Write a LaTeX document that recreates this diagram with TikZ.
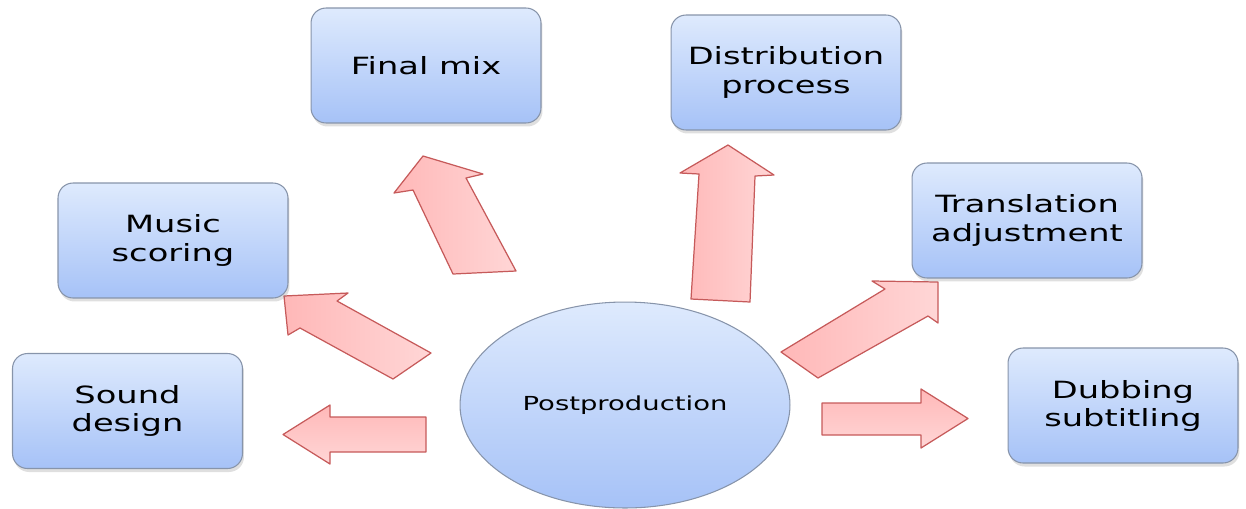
\documentclass[tikz,border=0pt]{standalone}
\usepackage{fontspec}
\setmainfont{DejaVu Sans}[FakeStretch=1.42]
\usetikzlibrary{shapes.geometric,shadows}
\definecolor{boxtop}{HTML}{DEEAFD}
\definecolor{boxbot}{HTML}{A6C2F7}
\definecolor{boxline}{HTML}{8794AA}
\definecolor{arrdark}{HTML}{FFB8B8}
\definecolor{arrlight}{HTML}{FFD6D6}
\definecolor{arrline}{HTML}{C65A5A}
\tikzset{
  stepbox/.style={rectangle, rounded corners=0.3cm, minimum width=4.6cm,
    minimum height=2.3cm, draw=boxline, line width=0.6pt,
    top color=boxtop, bottom color=boxbot, align=center,
    font=\fontsize{13.5}{16}\selectfont,
    drop shadow={shadow xshift=0.03cm, shadow yshift=-0.07cm, opacity=0.25}},
  hub/.style={ellipse, minimum width=6.6cm, minimum height=4.12cm, inner sep=0pt,
    draw=boxline, line width=0.6pt, top color=boxtop, bottom color=boxbot,
    font=\fontsize{11}{13}\selectfont},
  blockarrow/.style={draw=arrline, line width=0.7pt, line join=round,
    left color=arrdark, right color=arrlight},
  harrow/.style={draw=arrline, line width=0.7pt, line join=round,
    top color=arrdark, bottom color=arrlight}
}
\begin{document}
\begin{tikzpicture}[x=0.02cm, y=-0.02cm]
\useasboundingbox (0,0) rectangle (1246,508);
% block arrows
\path[harrow] (426,417) -- (330,417) -- (330,405) -- (283,434.5) -- (330,464) -- (330,452) -- (426,452) -- cycle;
\path[harrow] (822,403) -- (921,403) -- (921,389) -- (968,418.5) -- (921,448) -- (921,435) -- (822,435) -- cycle;
\path[blockarrow] (431,353) -- (337,301) -- (348,293) -- (284,296) -- (288,335) -- (300,328) -- (393,379) -- cycle;
\path[blockarrow] (516,271) -- (466,178) -- (483,174) -- (423,156) -- (394,193) -- (413,190) -- (453,274) -- cycle;
\path[blockarrow] (750,302) -- (755,176) -- (774,175) -- (728,145) -- (680,173) -- (699,174) -- (691,299) -- cycle;
\path[blockarrow] (781,352) -- (885,289) -- (872,281) -- (938,282) -- (938,323) -- (928,316) -- (818,378) -- cycle;
% nodes
\node[hub] (post) at (625,405) {Postproduction};
\node[stepbox] (final) at (426,65.5) {Final mix};
\node[stepbox] (dist) at (786,72.5) {Distribution\\process};
\node[stepbox] (music) at (173,240.5) {Music\\scoring};
\node[stepbox] (trans) at (1027,220.5) {Translation\\adjustment};
\node[stepbox] (sound) at (127.5,411) {Sound\\design};
\node[stepbox] (dub) at (1123,405.5) {Dubbing\\subtitling};
\end{tikzpicture}
\end{document}
